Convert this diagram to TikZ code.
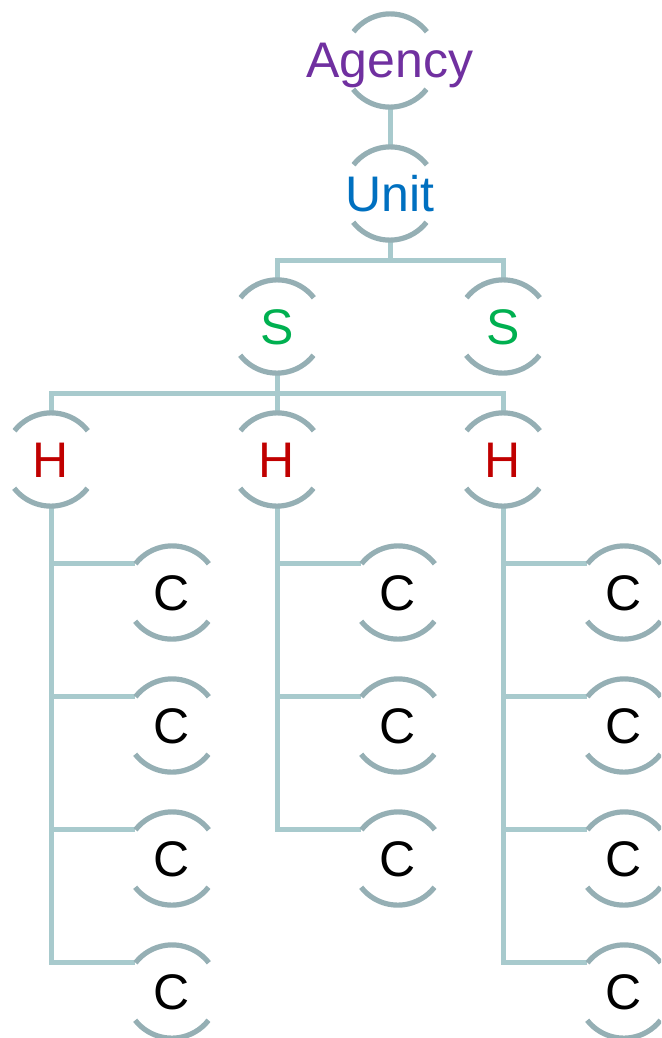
\documentclass[tikz,border=0pt]{standalone}
\usepackage{fontspec}
\setmainfont{Liberation Sans}
\definecolor{arccol}{RGB}{149,175,180}
\definecolor{linecol}{RGB}{168,202,205}
\definecolor{agencycol}{RGB}{112,48,160}
\definecolor{unitcol}{RGB}{0,112,192}
\definecolor{scol}{RGB}{0,176,80}
\definecolor{hcol}{RGB}{192,0,0}
\begin{document}
\begin{tikzpicture}[x=1pt,y=-1pt,
  circ/.style={circle,minimum size=93pt,inner sep=0pt,draw=none},
  lbl/.style={anchor=base,inner sep=0pt,font=\fontsize{50}{60}\selectfont},
  conn/.style={draw=linecol,line width=5pt},
  arcline/.style={draw=arccol,line width=5.2pt}]
\useasboundingbox (0,0) rectangle (661,1038);
\clip (0,0) rectangle (661,1038);
% nodes
\node[circ] (A) at (390,60.5) {};
\node[circ] (U) at (390,193.5) {};
\node[circ] (S1) at (277,326.5) {};
\node[circ] (S2) at (503,326.5) {};
\node[circ] (H1) at (51,459.5) {};
\node[circ] (H2) at (277,459.5) {};
\node[circ] (H3) at (503,459.5) {};
\foreach \i/\x in {1/172,2/398,3/624}{
  \foreach \j/\y in {1/592.5,2/725.5,3/858.5,4/991.5}{
    \node[circ] (C\i\j) at (\x,\y) {};
  }
}
% connectors
\coordinate (jU) at (390,260);
\coordinate (jS) at (277,393);
\draw[conn] (A.south) -- (U.north);
\draw[conn] (U.south) -- (jU) -| (S1.north);
\draw[conn] (jU) -| (S2.north);
\draw[conn] (S1.south) -- (jS) -| (H1.north);
\draw[conn] (jS) -- (H2.north);
\draw[conn] (jS) -| (H3.north);
\foreach \j in {1,2,3,4}{\draw[conn] (H1.south) |- (C1\j.142);}
\foreach \j in {1,2,3}{\draw[conn] (H2.south) |- (C2\j.142);}
\foreach \j in {1,2,3,4}{\draw[conn] (H3.south) |- (C3\j.142);}
% arcs
\foreach \n in {A,U,S1,S2,H1,H2,H3,C11,C12,C13,C14,C21,C22,C23,C31,C32,C33,C34}{
  \draw[arcline] (\n.38) arc[start angle=38,end angle=142,radius=46.5pt];
  \draw[arcline] (\n.218) arc[start angle=218,end angle=322,radius=46.5pt];
}
% labels
\node[lbl,text=agencycol] (At) at ([yshift=-17.5pt]A.center) {Agency};
\node[lbl,text=unitcol] (Ut) at ([yshift=-17.5pt]U.center) {Unit};
\node[lbl,text=scol] (S1t) at ([yshift=-17.5pt]S1.center) {S};
\node[lbl,text=scol] (S2t) at ([yshift=-17.5pt]S2.center) {S};
\foreach \n in {H1,H2,H3}{\node[lbl,text=hcol] (\n t) at ([yshift=-17.5pt]\n.center) {H};}
\foreach \n in {C11,C12,C13,C14,C21,C22,C23,C31,C32,C33,C34}{\node[lbl,text=black] (\n t) at ([yshift=-17.5pt]\n.center) {C};}
\end{tikzpicture}
\end{document}
